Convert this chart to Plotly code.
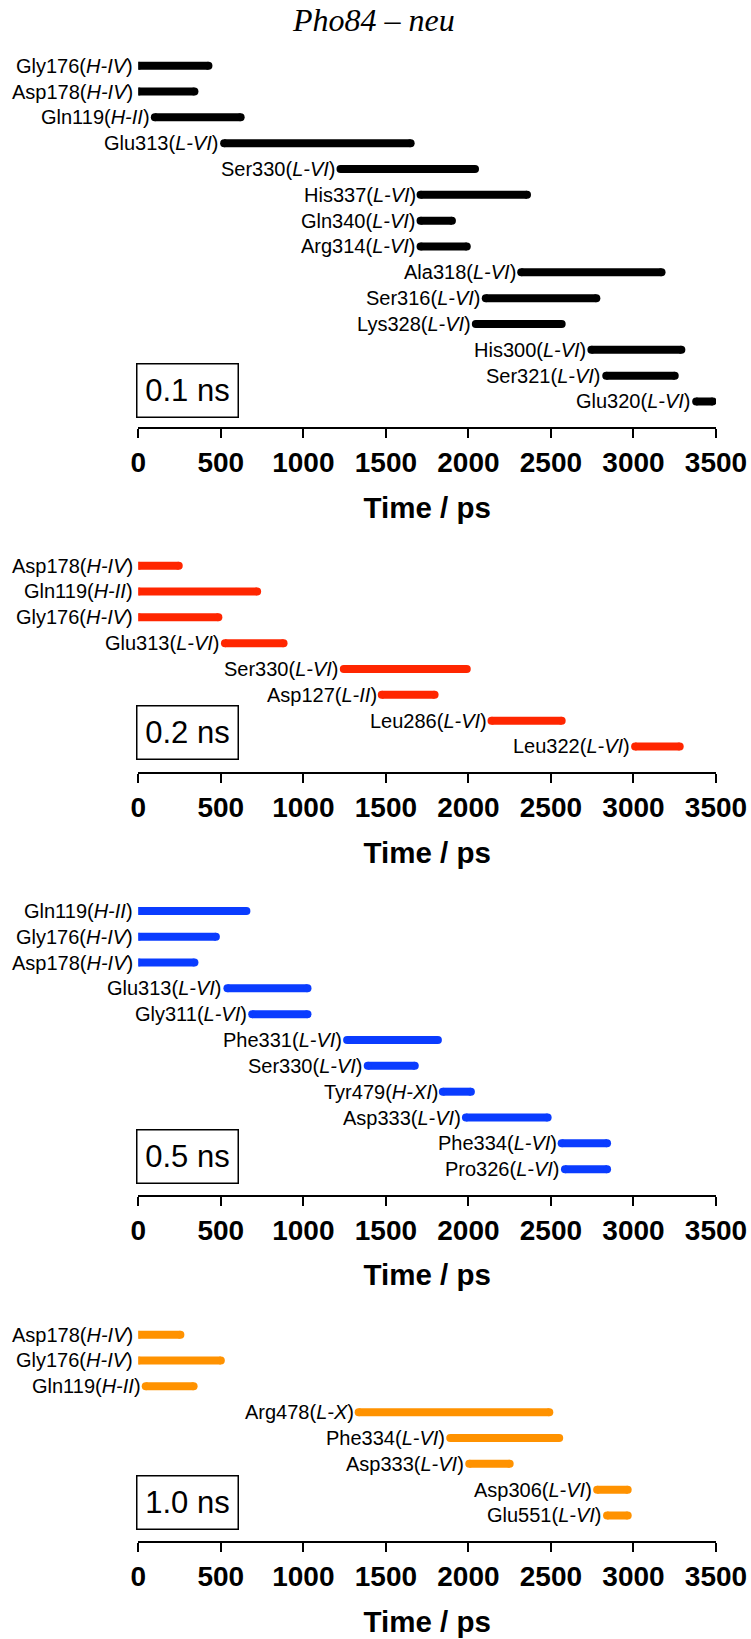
import plotly.graph_objects as go

W, H = 751, 1639

# ---- data: contact intervals (ps) per residue, four time windows ----
res_01 = ["Gly176", "Asp178", "Gln119", "Glu313", "Ser330", "His337", "Gln340",
          "Arg314", "Ala318", "Ser316", "Lys328", "His300", "Ser321", "Glu320"]
seg_01 = ["H-IV", "H-IV", "H-II", "L-VI", "L-VI", "L-VI", "L-VI",
          "L-VI", "L-VI", "L-VI", "L-VI", "L-VI", "L-VI", "L-VI"]
start_01 = [0, 0, 100, 520, 1225, 1710, 1710, 1710, 2320, 2105, 2045, 2745, 2835, 3380]
end_01 = [425, 340, 620, 1650, 2040, 2355, 1900, 1990, 3170, 2775, 2565, 3290, 3250, 3480]

res_02 = ["Asp178", "Gln119", "Gly176", "Glu313", "Ser330", "Asp127", "Leu286", "Leu322"]
seg_02 = ["H-IV", "H-II", "H-IV", "L-VI", "L-VI", "L-II", "L-VI", "L-VI"]
start_02 = [0, 0, 0, 525, 1245, 1475, 2140, 3010]
end_02 = [245, 720, 485, 880, 1990, 1795, 2565, 3280]

res_05 = ["Gln119", "Gly176", "Asp178", "Glu313", "Gly311", "Phe331", "Ser330",
          "Tyr479", "Asp333", "Phe334", "Pro326"]
seg_05 = ["H-II", "H-IV", "H-IV", "L-VI", "L-VI", "L-VI", "L-VI",
          "H-XI", "L-VI", "L-VI", "L-VI"]
start_05 = [0, 0, 0, 540, 690, 1265, 1390, 1845, 1985, 2565, 2585]
end_05 = [655, 470, 340, 1025, 1025, 1815, 1675, 2015, 2480, 2840, 2840]

res_10 = ["Asp178", "Gly176", "Gln119", "Arg478", "Phe334", "Asp333", "Asp306", "Glu551"]
seg_10 = ["H-IV", "H-IV", "H-II", "L-X", "L-VI", "L-VI", "L-VI", "L-VI"]
start_10 = [0, 0, 45, 1335, 1890, 2005, 2780, 2840]
end_10 = [255, 500, 335, 2490, 2550, 2250, 2965, 2965]

window_labels = ["0.1 ns", "0.2 ns", "0.5 ns", "1.0 ns"]
bar_colors = ["#000000", "#FF2600", "#0A3CFF", "#FF9200"]
x_ticks = [0, 500, 1000, 1500, 2000, 2500, 3000, 3500]
x_title = "Time / ps"
fig_title = "Pho84 – neu"

panels = [
    (res_01, seg_01, start_01, end_01),
    (res_02, seg_02, start_02, end_02),
    (res_05, seg_05, start_05, end_05),
    (res_10, seg_10, start_10, end_10),
]

# ---- layout geometry (pixels) ----
PLOT_LEFT, PLOT_RIGHT = 138.3, 716.0
ROW_PITCH = 25.83
AXIS_BOTTOM = [427.3, 772.3, 1195.0, 1541.3]
BOX_CENTER_Y = [390.5, 733.0, 1156.0, 1502.0]
BOX_CENTER_X = 187.0
BAR_W = 8

SANS = "Liberation Sans, Arial, sans-serif"
SERIF = "Liberation Serif, Times New Roman, serif"

fig = go.Figure()
annotations = []
layout_axes = {}

for k, (res, seg, st, en) in enumerate(panels, start=1):
    n = len(res)
    rows = [n - i for i in range(n)]
    xs, ys = [], []
    for s, e, r in zip(st, en, rows):
        xs += [s, e, None]
        ys += [r, r, None]
    sfx = "" if k == 1 else str(k)
    fig.add_trace(go.Scatter(
        x=xs, y=ys, mode="lines+markers",
        line=dict(color=bar_colors[k - 1], width=BAR_W),
        marker=dict(color=bar_colors[k - 1], size=BAR_W, line=dict(width=0)),
        xaxis="x" + sfx, yaxis="y" + sfx, hoverinfo="skip", showlegend=False,
    ))

    for name, sg, s, r in zip(res, seg, st, rows):
        annotations.append(dict(
            x=s, y=r, xref="x" + sfx, yref="y" + sfx,
            text=f"{name}(<i>{sg}</i>)", showarrow=False,
            xanchor="right", yanchor="middle", xshift=-3,
            font=dict(family=SANS, size=20, color="black"),
        ))

    bottom = AXIS_BOTTOM[k - 1]
    top = bottom - (n + 0.5) * ROW_PITCH
    layout_axes["xaxis" + sfx] = dict(
        domain=[PLOT_LEFT / W, PLOT_RIGHT / W], range=[0, 3500],
        anchor="y" + sfx, tickmode="array", tickvals=x_ticks,
        ticks="outside", ticklen=9, tickwidth=2, tickcolor="black",
        showline=True, linewidth=2, linecolor="black",
        showgrid=False, zeroline=False, fixedrange=True, automargin=False,
        tickfont=dict(family=SANS, size=28, color="black", weight="bold"),
        title=dict(text=x_title, standoff=20,
                   font=dict(family=SANS, size=29.5, color="black", weight="bold")),
    )
    layout_axes["yaxis" + sfx] = dict(
        domain=[1 - bottom / H, 1 - top / H], range=[0, n + 0.5],
        anchor="x" + sfx, visible=False, fixedrange=True, automargin=False,
    )

    annotations.append(dict(
        x=BOX_CENTER_X / W, y=1 - BOX_CENTER_Y[k - 1] / H,
        xref="paper", yref="paper", xanchor="center", yanchor="middle",
        text=window_labels[k - 1], showarrow=False,
        width=96, height=48, borderpad=2,
        bordercolor="black", borderwidth=1.5,
        font=dict(family=SANS, size=31, color="black"),
    ))

annotations.append(dict(
    x=373.5 / W, y=1 - 20.5 / H, xref="paper", yref="paper",
    xanchor="center", yanchor="middle", showarrow=False,
    text=f"<i>{fig_title}</i>",
    font=dict(family=SERIF, size=32, color="black"),
))

fig.update_layout(
    width=W, height=H, autosize=False,
    margin=dict(l=0, r=0, t=0, b=0, autoexpand=False),
    paper_bgcolor="white", plot_bgcolor="white",
    annotations=annotations,
    **layout_axes,
)

fig.write_html("out.html", config={"displayModeBar": False})
